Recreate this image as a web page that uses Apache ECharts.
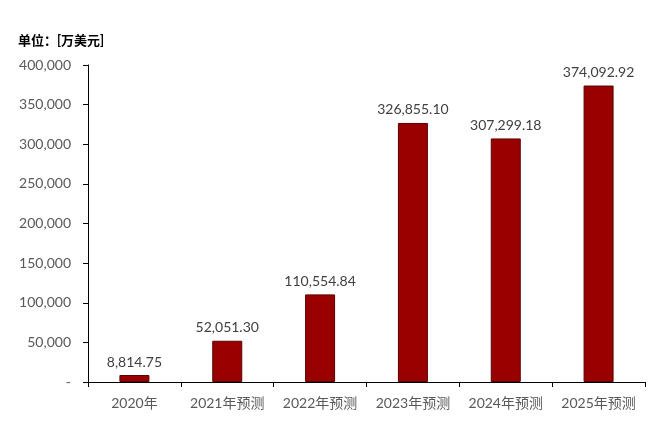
<!DOCTYPE html>
<html><head><meta charset="utf-8">
<script src="https://cdn.jsdelivr.net/npm/echarts@6/dist/echarts.min.js"></script>
<style>html,body{margin:0;padding:0;background:#fff}#c{width:659px;height:423px}</style>
</head><body><div id="c"></div>
<script>
const categories = ['2020年','2021年预测','2022年预测','2023年预测','2024年预测','2025年预测'];
const values = [8814.75, 52051.30, 110554.84, 326855.10, 307299.18, 374092.92];
const unitLabel = '单位：[万美元]';
const font = 'Lato, "Noto Sans CJK SC", sans-serif';
const chart = echarts.init(document.getElementById('c'));
chart.setOption({
  animation: false,
  title: { text: unitLabel, left: 13, top: 29, textStyle: { fontSize: 13, fontWeight: 'bold', color: '#000', fontFamily: font } },
  grid: { left: 88, right: 14, top: 65, bottom: 41, containLabel: false },
  xAxis: {
    type: 'category', data: categories,
    axisLine: { lineStyle: { color: '#000', width: 1 } },
    axisTick: { show: true, alignWithLabel: false, length: 5, lineStyle: { color: '#000' } },
    axisLabel: { interval: 0, color: '#595959', fontSize: 14, fontFamily: font, margin: 14 }
  },
  yAxis: {
    type: 'value', min: 0, max: 400000, interval: 50000,
    axisLine: { show: true, lineStyle: { color: '#000', width: 1 } },
    axisTick: { show: true, length: 5, lineStyle: { color: '#000' } },
    splitLine: { show: false },
    axisLabel: { color: '#595959', fontSize: 14, fontFamily: font, margin: 17,
      formatter: v => v === 0 ? '-' : v.toLocaleString('en-US') }
  },
  series: [{
    type: 'bar', data: values, barWidth: 30,
    itemStyle: { color: '#990000', borderColor: '#5c0000', borderWidth: 1 },
    label: { show: true, position: 'top', distance: 6, color: '#404040', fontSize: 14, fontFamily: font,
      formatter: p => p.value.toLocaleString('en-US', { minimumFractionDigits: 2, maximumFractionDigits: 2 }) }
  }]
});
</script></body></html>
